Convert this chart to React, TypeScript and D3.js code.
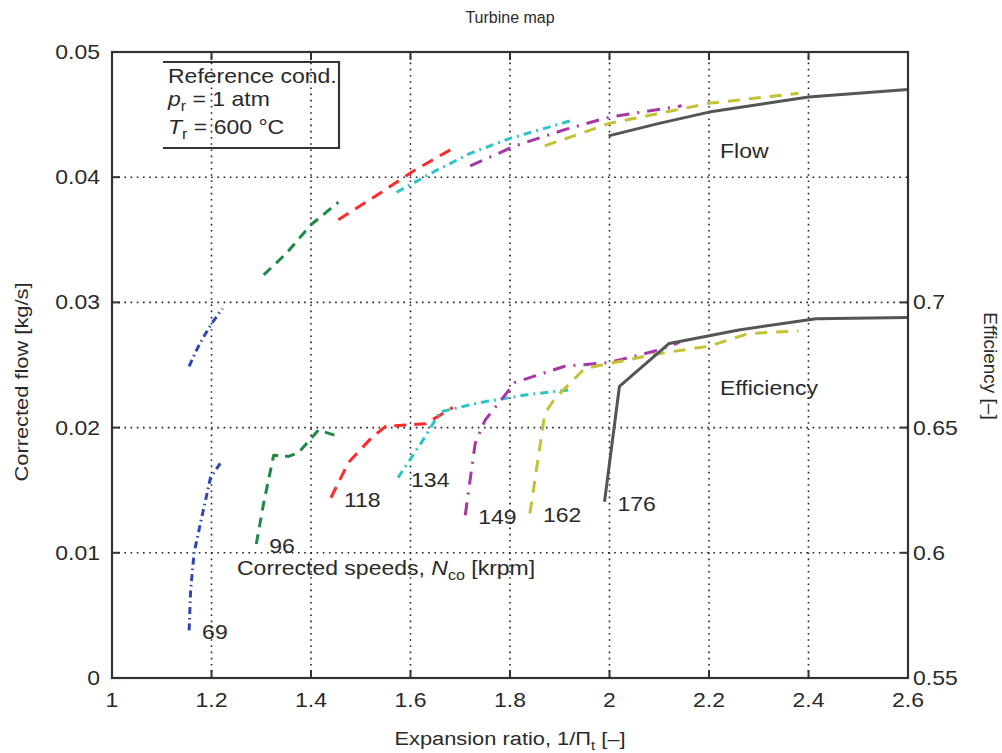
import React from "react";
import * as d3 from "d3";

// corrected speeds [krpm]
const speeds = [69, 96, 118, 134, 149, 162, 176];

// corrected flow [kg/s] vs expansion ratio, one array per speed line
const flow69 = [[1.155, 0.0249], [1.17, 0.0262], [1.185, 0.0273], [1.2, 0.0283], [1.222, 0.0295]];
const flow96 = [[1.305, 0.0322], [1.35, 0.0339], [1.4, 0.0362], [1.455, 0.038]];
const flow118 = [[1.455, 0.0366], [1.53, 0.0385], [1.606, 0.0405], [1.685, 0.0423]];
const flow134 = [[1.572, 0.0388], [1.65, 0.0405], [1.72, 0.0419], [1.8, 0.0431], [1.93, 0.0446]];
const flow149 = [[1.72, 0.0409], [1.81, 0.0425], [1.91, 0.0438], [2.0, 0.0448], [2.145, 0.0457]];
const flow162 = [[1.87, 0.0425], [2.0, 0.0443], [2.2, 0.0459], [2.38, 0.0467]];
const flow176 = [[1.998, 0.0433], [2.1, 0.0443], [2.2, 0.0452], [2.4, 0.0464], [2.6, 0.047]];

// efficiency [-] vs expansion ratio
const eff69 = [[1.155, 0.569], [1.158, 0.585], [1.165, 0.6], [1.178, 0.612], [1.198, 0.63], [1.222, 0.637]];
const eff96 = [[1.29, 0.6035], [1.305, 0.62], [1.325, 0.639], [1.355, 0.6385], [1.375, 0.64], [1.415, 0.649], [1.455, 0.6465]];
const eff118 = [[1.44, 0.622], [1.475, 0.636], [1.52, 0.6456], [1.55, 0.6505], [1.63, 0.6515], [1.685, 0.658]];
const eff134 = [[1.575, 0.63], [1.625, 0.645], [1.66, 0.6563], [1.74, 0.66], [1.83, 0.663], [1.925, 0.6652]];
const eff149 = [[1.71, 0.615], [1.73, 0.6437], [1.75, 0.653], [1.81, 0.668], [1.91, 0.6745], [2.0, 0.676], [2.1, 0.681], [2.14, 0.684]];
const eff162 = [[1.84, 0.6157], [1.87, 0.6556], [1.89, 0.6616], [1.95, 0.6736], [2.0, 0.6756], [2.1, 0.6796], [2.2, 0.6825], [2.28, 0.6876], [2.38, 0.6886]];
const eff176 = [[1.99, 0.6204], [2.02, 0.6665], [2.12, 0.6836], [2.26, 0.689], [2.415, 0.6935], [2.6, 0.694]];

const flowSeries = [flow69, flow96, flow118, flow134, flow149, flow162, flow176];
const effSeries = [eff69, eff96, eff118, eff134, eff149, eff162, eff176];

const colors = ["#3047ad", "#1e8a46", "#ff2b2b", "#2cc4c8", "#a736a7", "#c2c234", "#555555"];
const dashes = ["7,4,1.5,4", "10,7", "12,8", "8,5,2,5", "13,8,2,8", "12,9", null];

const xTicks = [1, 1.2, 1.4, 1.6, 1.8, 2, 2.2, 2.4, 2.6];
const yTicks = [0, 0.01, 0.02, 0.03, 0.04, 0.05];
const effTicks = [0.55, 0.6, 0.65, 0.7];

const margin = { left: 112, top: 52, right: 94, bottom: 75 };
const W = 1002;
const H = 753;
const font = "'Liberation Sans', Arial, Helvetica, sans-serif";
const ink = "#2a2a2a";
const SX = 1.15; // the source text is a bit wider than Liberation Sans

// text drawn with a small horizontal stretch
function T({ x, y, anchor = "start", size = 20, rotate = 0, children }: any) {
  return (
    <text
      transform={`translate(${x},${y}) rotate(${rotate}) scale(${SX},1)`}
      textAnchor={anchor}
      fontSize={size}
      fill={ink}
    >
      {children}
    </text>
  );
}

export default function App() {
  const plotW = W - margin.left - margin.right;
  const plotH = H - margin.top - margin.bottom;

  const x = d3.scaleLinear().domain([1, 2.6]).range([margin.left, margin.left + plotW]);
  const y = d3.scaleLinear().domain([0, 0.05]).range([margin.top + plotH, margin.top]);
  const yEff = d3.scaleLinear().domain([0.55, 0.8]).range([margin.top + plotH, margin.top]);

  const flowLine = d3.line<number[]>().x(d => x(d[0])).y(d => y(d[1]));
  const effLine = d3.line<number[]>().x(d => x(d[0])).y(d => yEff(d[1]));

  const x0 = margin.left, x1 = margin.left + plotW;
  const y0 = margin.top + plotH, y1 = margin.top;
  const tick = 8;
  const fmt = d3.format("~g");

  return (
    <svg width={W} height={H} style={{ position: "absolute", left: 0, top: 0, background: "#fff" }} fontFamily={font}>
      {/* grid */}
      <g stroke="#222" strokeWidth={1.6} strokeDasharray="1.6,4.6">
        {xTicks.slice(1, -1).map(t => (
          <line key={"gx" + t} x1={x(t)} x2={x(t)} y1={y0} y2={y1} />
        ))}
        {yTicks.slice(1, -1).map(t => (
          <line key={"gy" + t} x1={x0} x2={x1} y1={y(t)} y2={y(t)} />
        ))}
      </g>

      {/* curves */}
      <g fill="none" strokeWidth={3} strokeLinejoin="round">
        {flowSeries.map((s, i) => (
          <path key={"f" + i} d={flowLine(s) || ""} stroke={colors[i]} strokeDasharray={dashes[i] || undefined} />
        ))}
        {effSeries.map((s, i) => (
          <path key={"e" + i} d={effLine(s) || ""} stroke={colors[i]} strokeDasharray={dashes[i] || undefined} />
        ))}
      </g>

      {/* speed labels */}
      {effSeries.map((s, i) => (
        <T key={"l" + i} x={x(s[0][0]) + 13} y={yEff(s[0][1]) + 9}>
          {speeds[i]}
        </T>
      ))}

      {/* frame */}
      <rect x={x0} y={y1} width={plotW} height={plotH} fill="none" stroke="#333" strokeWidth={2.2} />

      {/* ticks */}
      <g stroke="#333" strokeWidth={2}>
        {xTicks.map(t => (
          <g key={"tx" + t}>
            <line x1={x(t)} x2={x(t)} y1={y0} y2={y0 - tick} />
            <line x1={x(t)} x2={x(t)} y1={y1} y2={y1 + tick} />
          </g>
        ))}
        {yTicks.map(t => (
          <line key={"ty" + t} x1={x0} x2={x0 + tick} y1={y(t)} y2={y(t)} />
        ))}
        {effTicks.map(t => (
          <line key={"te" + t} x1={x1} x2={x1 - tick} y1={yEff(t)} y2={yEff(t)} />
        ))}
      </g>

      {/* tick labels */}
      {xTicks.map(t => (
        <T key={"lx" + t} x={x(t)} y={y0 + 29} anchor="middle">
          {fmt(t)}
        </T>
      ))}
      {yTicks.map(t => (
        <T key={"ly" + t} x={x0 - 12} y={y(t) + 7} anchor="end">
          {fmt(t)}
        </T>
      ))}
      {effTicks.map(t => (
        <T key={"le" + t} x={x1 + 5} y={yEff(t) + 7}>
          {fmt(t)}
        </T>
      ))}

      {/* reference condition box */}
      <polyline points="163,62 339,62 339,148 163,148" fill="none" stroke="#333" strokeWidth={2.2} />
      <T x={168} y={83}>Reference cond.</T>
      <T x={168} y={106}>
        <tspan fontStyle="italic">p</tspan>
        <tspan fontSize={14} dy={5}>r</tspan>
        <tspan dy={-5}> = 1 atm</tspan>
      </T>
      <T x={168} y={134}>
        <tspan fontStyle="italic">T</tspan>
        <tspan fontSize={14} dy={5}>r</tspan>
        <tspan dy={-5}> = 600 °C</tspan>
      </T>

      {/* annotations */}
      <T x={720} y={158}>Flow</T>
      <T x={720} y={395}>Efficiency</T>
      <T x={237} y={575}>
        Corrected speeds, <tspan fontStyle="italic">N</tspan>
        <tspan fontSize={14} dy={5}>co</tspan>
        <tspan dy={-5}> [krpm]</tspan>
      </T>

      {/* titles */}
      <text x={x0 + plotW / 2} y={23} textAnchor="middle" fontSize={16} fill={ink}>
        Turbine map
      </text>
      <T x={x0 + plotW / 2} y={745} anchor="middle" size={19}>
        Expansion ratio, 1/Π
        <tspan fontSize={13} dy={5}>t</tspan>
        <tspan dy={-5}> [–]</tspan>
      </T>
      <T x={28} y={382} anchor="middle" size={19} rotate={-90}>
        Corrected flow [kg/s]
      </T>
      <text transform={`translate(984,366) rotate(90)`} textAnchor="middle" fontSize={19} fill={ink}>
        Efficiency [–]
      </text>
    </svg>
  );
}
